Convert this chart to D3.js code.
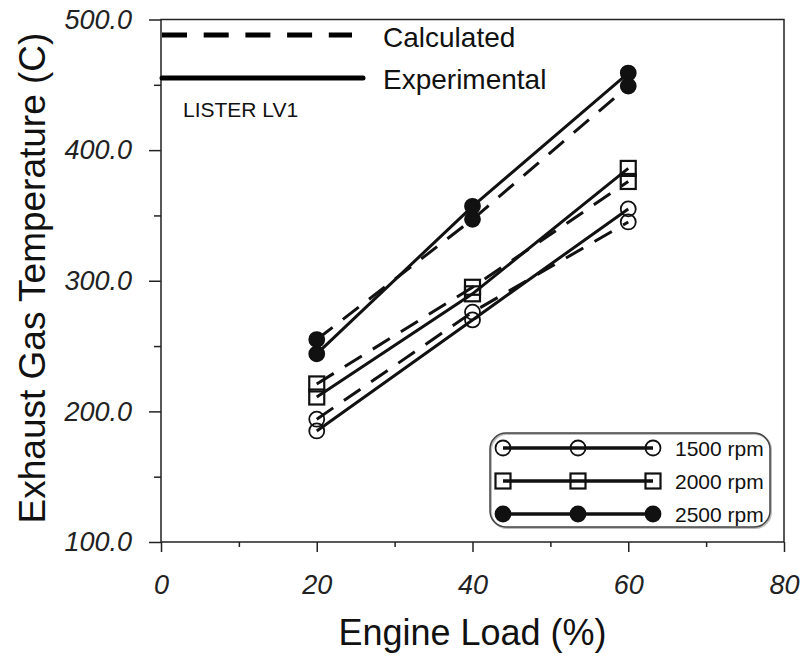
<!DOCTYPE html>
<html>
<head>
<meta charset="utf-8">
<script src="https://cdn.jsdelivr.net/npm/d3@7"></script>
<style>
  body { margin: 0; background: #fff; }
  text { font-family: "Liberation Sans", Arial, sans-serif; fill: #111; }
  .axis text { font-style: italic; font-size: 27px; fill: #222; }
  .axis path { display: none; }
  .axis line { stroke: #222; stroke-width: 1.5; }
</style>
</head>
<body>
<div id="chart"></div>
<script>
// engine load (%) and exhaust gas temperature (C)
var loads = [20, 40, 60];
var exp1500 = [185, 270, 355];
var calc1500 = [194, 276, 345];
var exp2000 = [211, 290, 386];
var calc2000 = [221, 295, 376];
var exp2500 = [244, 357, 459];
var calc2500 = [255, 347, 449];

var xMajor = [0, 20, 40, 60, 80];
var xMinor = [10, 30, 50, 70];
var yMajor = [100, 200, 300, 400, 500];
var yMinor = [150, 250, 350, 450];

var speeds = ['1500 rpm', '2000 rpm', '2500 rpm'];
var markers = ['circle', 'square', 'dot'];

var width = 804, height = 662;
var margin = {top: 19.5, right: 20, bottom: 120, left: 161};

var svg = d3.select('#chart')
  .append('svg')
  .attr('width', width)
  .attr('height', height)
  .append('g')
  .attr('transform', 'translate(' + margin.left + ',' + margin.top + ')');

var w = 784 - margin.left,
  h = 542 - margin.top;

var xScale = d3.scaleLinear().domain([0, 80]).range([0, w]);
var yScale = d3.scaleLinear().domain([100, 500]).range([h, 0]);

// frame
svg.append('rect')
  .attr('width', w)
  .attr('height', h)
  .attr('fill', 'none')
  .attr('stroke', '#222')
  .attr('stroke-width', 1.5);

svg.append('g')
  .attr('class', 'axis')
  .attr('transform', 'translate(0,' + h + ')')
  .call(d3.axisBottom(xScale).tickValues(xMajor).tickSize(10).tickPadding(23)
    .tickFormat(d3.format('d')));
svg.append('g')
  .attr('class', 'axis')
  .attr('transform', 'translate(0,' + h + ')')
  .call(d3.axisBottom(xScale).tickValues(xMinor).tickSize(5).tickFormat(''));

svg.append('g')
  .attr('class', 'axis')
  .call(d3.axisLeft(yScale).tickValues(yMajor).tickSize(12).tickPadding(17)
    .tickFormat(d3.format('.1f')));
svg.append('g')
  .attr('class', 'axis')
  .call(d3.axisLeft(yScale).tickValues(yMinor).tickSize(7).tickFormat(''));

// axis titles
svg.append('text')
  .attr('x', w / 2)
  .attr('y', 632 - margin.top)
  .attr('text-anchor', 'middle')
  .attr('dominant-baseline', 'central')
  .style('font-size', '36px')
  .text('Engine Load (%)');

svg.append('text')
  .attr('transform', 'translate(' + (32 - margin.left) + ',' + (278 - margin.top) + ') rotate(-90)')
  .attr('text-anchor', 'middle')
  .attr('dominant-baseline', 'central')
  .style('font-size', '37px')
  .text('Exhaust Gas Temperature (C)');

// series
var series = [
  {name: speeds[0], marker: markers[0], exp: exp1500, calc: calc1500},
  {name: speeds[1], marker: markers[1], exp: exp2000, calc: calc2000},
  {name: speeds[2], marker: markers[2], exp: exp2500, calc: calc2500}
];

var line = d3.line()
  .x(function(d) { return xScale(d[0]); })
  .y(function(d) { return yScale(d[1]); });

function drawMarker(g, type, cx, cy) {
  if (type === 'square') {
    g.append('rect')
      .attr('x', cx - 7.5).attr('y', cy - 7.5)
      .attr('width', 15).attr('height', 15)
      .attr('fill', 'none').attr('stroke', '#111').attr('stroke-width', 2.2);
  } else {
    g.append('circle')
      .attr('cx', cx).attr('cy', cy).attr('r', 7.5)
      .attr('fill', type === 'dot' ? '#111' : 'none')
      .attr('stroke', '#111').attr('stroke-width', 1.8);
  }
}

series.forEach(function(s) {
  var expPts = loads.map(function(l, i) { return [l, s.exp[i]]; });
  var calcPts = loads.map(function(l, i) { return [l, s.calc[i]]; });
  svg.append('path')
    .attr('d', line(calcPts))
    .attr('fill', 'none')
    .attr('stroke', '#111')
    .attr('stroke-width', 3)
    .attr('stroke-dasharray', '20,13');
  svg.append('path')
    .attr('d', line(expPts))
    .attr('fill', 'none')
    .attr('stroke', '#111')
    .attr('stroke-width', 3);
  var mg = svg.append('g');
  expPts.concat(calcPts).forEach(function(p) {
    drawMarker(mg, s.marker, xScale(p[0]), yScale(p[1]));
  });
});

// top-left legend
var tl = svg.append('g');
tl.append('line')
  .attr('x1', 1).attr('x2', 191)
  .attr('y1', 35 - margin.top).attr('y2', 35 - margin.top)
  .attr('stroke', '#000').attr('stroke-width', 5)
  .attr('stroke-dasharray', '25,16.7');
tl.append('line')
  .attr('x1', 1).attr('x2', 202)
  .attr('y1', 78 - margin.top).attr('y2', 78 - margin.top)
  .attr('stroke', '#000').attr('stroke-width', 5)
  .attr('stroke-linecap', 'round');
tl.append('text')
  .attr('x', 383 - margin.left).attr('y', 37 - margin.top)
  .attr('dominant-baseline', 'central')
  .style('font-size', '28px')
  .text('Calculated');
tl.append('text')
  .attr('x', 383 - margin.left).attr('y', 79 - margin.top)
  .attr('dominant-baseline', 'central')
  .style('font-size', '28px')
  .text('Experimental');
tl.append('text')
  .attr('x', 183 - margin.left).attr('y', 109 - margin.top)
  .attr('dominant-baseline', 'central')
  .style('font-size', '21px')
  .text('LISTER LV1');

// bottom-right legend
var lg = svg.append('g').attr('transform', 'translate(' + (490 - margin.left) + ',' + (433 - margin.top) + ')');
lg.append('rect')
  .attr('x', 1).attr('y', 1)
  .attr('width', 280).attr('height', 94)
  .attr('rx', 16).attr('ry', 16)
  .attr('fill', 'none')
  .attr('stroke', '#bbb').attr('stroke-width', 2);
lg.append('rect')
  .attr('width', 280).attr('height', 94)
  .attr('rx', 16).attr('ry', 16)
  .attr('fill', 'none')
  .attr('stroke', '#444').attr('stroke-width', 1.5);

var legX = [13, 88, 163];
series.forEach(function(s, i) {
  var yy = 15 + i * 33;
  lg.append('line')
    .attr('x1', legX[0]).attr('x2', legX[2])
    .attr('y1', yy).attr('y2', yy)
    .attr('stroke', '#111').attr('stroke-width', 3.5);
  legX.forEach(function(lx) { drawMarker(lg, s.marker, lx, yy); });
  lg.append('text')
    .attr('x', 185).attr('y', yy)
    .attr('dominant-baseline', 'central')
    .style('font-size', '21px')
    .text(s.name);
});
</script>
</body>
</html>
